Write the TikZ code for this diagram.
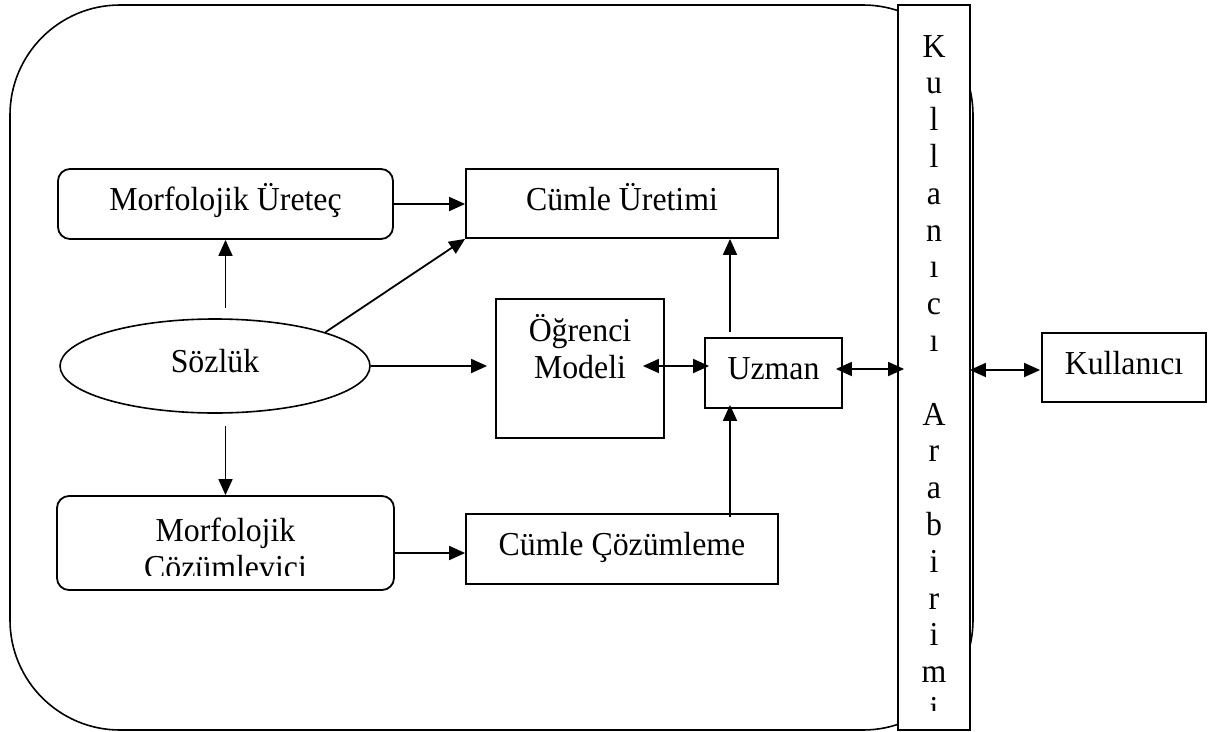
\documentclass[tikz,border=0pt]{standalone}
\usepackage{fontspec}
\setmainfont{Liberation Serif}[FakeStretch=0.95]
\usetikzlibrary{arrows.meta,shapes.geometric,calc}
\begin{document}
\begin{tikzpicture}[x=1pt,y=-1pt,
  every node/.style={font=\fontsize{33.5}{36.8}\selectfont, inner sep=0pt},
  block/.style={draw, line width=1.8pt, fill=white, text height=20pt, text depth=7pt},
  rblock/.style={block, rounded corners=12pt},
  arr/.style={-{Triangle[length=16pt,width=14pt]}, line width=1.8pt},
  darr/.style={{Triangle[length=16pt,width=14pt]}-{Triangle[length=16pt,width=14pt]}, line width=1.8pt}]
\useasboundingbox (0,0) rectangle (1210,731);

% outer system frame
\node (frame) [draw, line width=1.6pt, rounded corners=110pt,
  minimum width=963pt, minimum height=725pt] at (491.5,367.5) {};

% components
\node (mu) [rblock, minimum width=335pt, minimum height=70pt] at (225.5,204) {Morfolojik Üreteç};
\node (cu) [block, minimum width=312pt, minimum height=69pt] at (622,203.5) {Cümle Üretimi};
\node (sz) [block, ellipse, line width=1.6pt, minimum width=310pt, minimum height=94pt] at (215,366) {Sözlük};
\node (om) [block, minimum width=168pt, minimum height=139pt] at (580,368.5) {};
\node (omtext) [anchor=base, align=center, text width=168pt] at (580,341.7) {Öğrenci\\Modeli};
\node (uz) [block, minimum width=137pt, minimum height=70pt] at (773.5,373) {Uzman};
\node (mc) [rblock, minimum width=337pt, minimum height=94pt] at (225.5,543) {};
\begin{scope}
  \clip (57,496) rectangle (394,575);
  \node (mctext) [anchor=base, align=center, text width=337pt] at (225.5,541.7) {Morfolojik\\Çözümlevici};
\end{scope}
\node (cc) [block, minimum width=312pt, minimum height=70pt] at (622,549) {Cümle Çözümleme};
\node (ku) [block, minimum width=164pt, minimum height=69pt] at (1124,367.5) {Kullanıcı};

% user interface bar with vertical lettering
\node (bar) [draw, fill=white, line width=1.8pt, minimum width=72pt, minimum height=725pt] at (934,367.5) {};
\begin{scope}
  \clip (898,5) rectangle (970,710);
  \node (bartext) [anchor=base, align=center, text width=72pt] at (934,57)
    {K\\u\\l\\l\\a\\n\\ı\\c\\ı\\\mbox{}\\A\\r\\a\\b\\i\\r\\i\\m\\i};
\end{scope}

% connectors
\coordinate (ax) at (730,0);
\draw[arr] (mu.east) -- (mu.east -| cu.west);
\draw[arr, shorten <=10pt] (mu.south |- sz.north) -- (mu.south);
\draw[arr] (sz.17.5) -- (cu.south west);
\draw[arr, shorten >=8pt] (sz.east) -- (sz.east -| om.west);
\draw[arr, shorten <=12pt] (mc.north |- sz.south) -- (mc.north);
\draw[arr] ($(mc.east |- cc.west)+(0,4)$) -- ($(cc.west)+(0,4)$);
\draw[arr, shorten <=-4pt, shorten >=-4pt] (ax |- cc.north) -- (ax |- uz.south);
\draw[arr, shorten <=5pt] (ax |- uz.north) -- (ax |- cu.south);
\draw[darr, shorten <=-22pt, shorten >=-5pt] ($(om.east |- uz.west)+(0,-7)$) -- ($(uz.west)+(0,-7)$);
\draw[darr, shorten <=-7pt, shorten >=-7pt] ($(uz.east)+(0,-4)$) -- ($(uz.east -| bar.west)+(0,-4)$);
\draw[darr, shorten <=-1pt, shorten >=1pt] ($(bar.east |- ku.west)+(0,2.5)$) -- ($(ku.west)+(0,2.5)$);
\end{tikzpicture}
\end{document}
